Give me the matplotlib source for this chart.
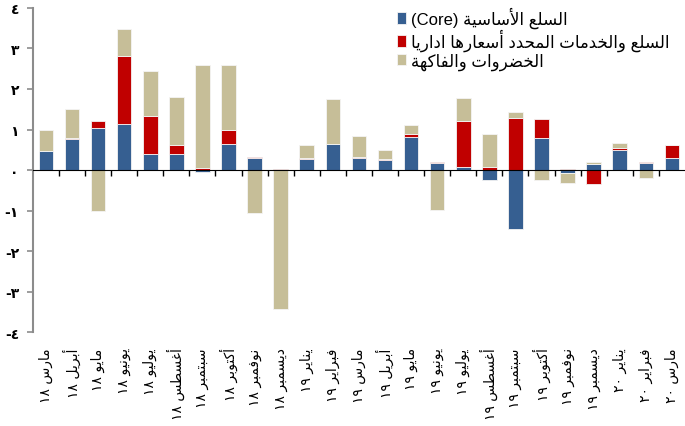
import matplotlib
matplotlib.use('Agg')
import matplotlib.pyplot as plt
import numpy as np

# --- minimal arabic shaping (matplotlib has no complex text layout) ---
FORMS = {
    'ا': (0xFE8D, 0xFE8E), 'أ': (0xFE83, 0xFE84), 'إ': (0xFE87, 0xFE88), 'آ': (0xFE81, 0xFE82),
    'ب': (0xFE8F, 0xFE90, 0xFE91, 0xFE92), 'ة': (0xFE93, 0xFE94),
    'ت': (0xFE95, 0xFE96, 0xFE97, 0xFE98), 'ح': (0xFEA1, 0xFEA2, 0xFEA3, 0xFEA4),
    'خ': (0xFEA5, 0xFEA6, 0xFEA7, 0xFEA8), 'د': (0xFEA9, 0xFEAA), 'ر': (0xFEAD, 0xFEAE),
    'ز': (0xFEAF, 0xFEB0), 'س': (0xFEB1, 0xFEB2, 0xFEB3, 0xFEB4),
    'ض': (0xFEBD, 0xFEBE, 0xFEBF, 0xFEC0), 'ط': (0xFEC1, 0xFEC2, 0xFEC3, 0xFEC4),
    'ع': (0xFEC9, 0xFECA, 0xFECB, 0xFECC), 'غ': (0xFECD, 0xFECE, 0xFECF, 0xFED0),
    'ف': (0xFED1, 0xFED2, 0xFED3, 0xFED4), 'ق': (0xFED5, 0xFED6, 0xFED7, 0xFED8),
    'ك': (0xFED9, 0xFEDA, 0xFEDB, 0xFEDC), 'ل': (0xFEDD, 0xFEDE, 0xFEDF, 0xFEE0),
    'م': (0xFEE1, 0xFEE2, 0xFEE3, 0xFEE4), 'ن': (0xFEE5, 0xFEE6, 0xFEE7, 0xFEE8),
    'ه': (0xFEE9, 0xFEEA, 0xFEEB, 0xFEEC), 'و': (0xFEED, 0xFEEE),
    'ي': (0xFEF1, 0xFEF2, 0xFEF3, 0xFEF4),
}
LAMALEF = {'ا': (0xFEFB, 0xFEFC), 'أ': (0xFEF7, 0xFEF8), 'إ': (0xFEF9, 0xFEFA), 'آ': (0xFEF5, 0xFEF6)}


def shape_word(w):
    toks = []
    i = 0
    while i < len(w):
        c = w[i]
        if c == 'ل' and i + 1 < len(w) and w[i + 1] in LAMALEF:
            toks.append(LAMALEF[w[i + 1]])
            i += 2
        else:
            toks.append(FORMS.get(c, c))
            i += 1
    out = []
    for j, t in enumerate(toks):
        if isinstance(t, str):
            out.append(t)
            continue
        prev = toks[j - 1] if j > 0 else None
        nxt = toks[j + 1] if j + 1 < len(toks) else None
        jp = prev is not None and not isinstance(prev, str) and len(prev) == 4
        jn = len(t) == 4 and nxt is not None and not isinstance(nxt, str)
        if jp and jn:
            code = t[3]
        elif jp:
            code = t[1]
        elif jn:
            code = t[2]
        else:
            code = t[0]
        out.append(chr(code))
    return ''.join(out)


def ar(text):
    words = []
    for w in text.split(' '):
        if any(c in FORMS for c in w):
            words.append(shape_word(w)[::-1])
        else:
            words.append(w)
    return ' '.join(words[::-1])


# --- data ---
months = ['مارس ١٨', 'أبريل ١٨', 'مايو ١٨', 'يونيو ١٨', 'يوليو ١٨', 'أغسطس ١٨',
          'سبتمبر ١٨', 'أكتوبر ١٨', 'نوفمبر ١٨', 'ديسمبر ١٨', 'يناير ١٩', 'فبراير ١٩',
          'مارس ١٩', 'أبريل ١٩', 'مايو ١٩', 'يونيو ١٩', 'يوليو ١٩', 'أغسطس ١٩',
          'سبتمبر ١٩', 'أكتوبر ١٩', 'نوفمبر ١٩', 'ديسمبر ١٩', 'يناير ٢٠', 'فبراير ٢٠',
          'مارس ٢٠']
core = [0.48, 0.76, 1.04, 1.13, 0.40, 0.40, -0.04, 0.65, 0.30, 0.00, 0.27, 0.65,
        0.30, 0.24, 0.81, 0.18, 0.07, -0.24, -1.45, 0.80, -0.08, 0.15, 0.50, 0.17, 0.30]
admin = [0.00, 0.02, 0.16, 1.68, 0.93, 0.21, 0.04, 0.35, 0.01, 0.03, 0.02, 0.00,
         0.01, 0.02, 0.09, 0.02, 1.14, 0.08, 1.29, 0.46, 0.03, -0.34, 0.04, 0.02, 0.31]
food = [0.52, 0.73, -1.02, 0.68, 1.11, 1.18, 2.55, 1.60, -1.06, -3.42, 0.32, 1.10,
        0.52, 0.24, 0.22, -0.99, 0.56, 0.81, 0.13, -0.25, -0.24, 0.04, 0.13, -0.19, 0.00]
labels = ['السلع الأساسية (Core)', 'السلع والخدمات المحدد أسعارها اداريا', 'الخضروات والفاكهة']
colors = ['#365F91', '#C00000', '#C6BE98']
yticks = [-4, -3, -2, -1, 0, 1, 2, 3, 4]
ytick_labels = ['-٤', '-٣', '-٢', '-١', '٠', '١', '٢', '٣', '٤']

fonts = ['Liberation Sans', 'DejaVu Sans']
plt.rcParams['font.family'] = fonts

fig = plt.figure(figsize=(6.85, 4.27), dpi=100)
ax = fig.add_axes([0.048, 0.22, 0.952, 0.759])

x = np.arange(len(months))
pos_base = np.zeros(len(x))
neg_base = np.zeros(len(x))
for series, color, lab in zip([core, admin, food], colors, labels):
    v = np.array(series)
    bottom = np.where(v >= 0, pos_base, neg_base)
    ax.bar(x, v, 0.56, bottom=bottom, color=color, edgecolor='#f4f4f4',
           linewidth=0.6, label=ar(lab))
    pos_base += np.clip(v, 0, None)
    neg_base += np.clip(v, None, 0)

ax.set_xlim(-0.5, len(x) - 0.5)
ax.set_ylim(-4, 4)

for s in ['top', 'right']:
    ax.spines[s].set_visible(False)
ax.spines['bottom'].set_position(('data', 0))
ax.spines['bottom'].set_color('black')
ax.spines['left'].set_color('#8c8c8c')
ax.spines['left'].set_linewidth(1.5)

ax.set_xticks(np.arange(0.5, len(x) - 1, 1))
ax.set_xticklabels([])
ax.tick_params(axis='x', direction='out', length=4, width=1, color='black')
ax.set_yticks(yticks)
ax.set_yticklabels(ytick_labels, fontsize=10, fontweight='bold', family=['DejaVu Sans'])
ax.tick_params(axis='y', length=4, width=1.2, color='#8c8c8c', labelcolor='black', pad=6)

for i, m in enumerate(months):
    ax.annotate(ar(m), xy=(i, 0), xycoords=('data', 'axes fraction'),
                xytext=(0, -11), textcoords='offset points', rotation=90,
                ha='center', va='top', fontsize=10, family=['DejaVu Sans'])

ax.legend(loc='upper left', bbox_to_anchor=(0.548, 1.025), frameon=False,
          fontsize=12, handlelength=0.55, handleheight=0.7, handletextpad=0.3,
          labelspacing=0.06, borderaxespad=0)

fig.savefig('out.png', dpi=100)
